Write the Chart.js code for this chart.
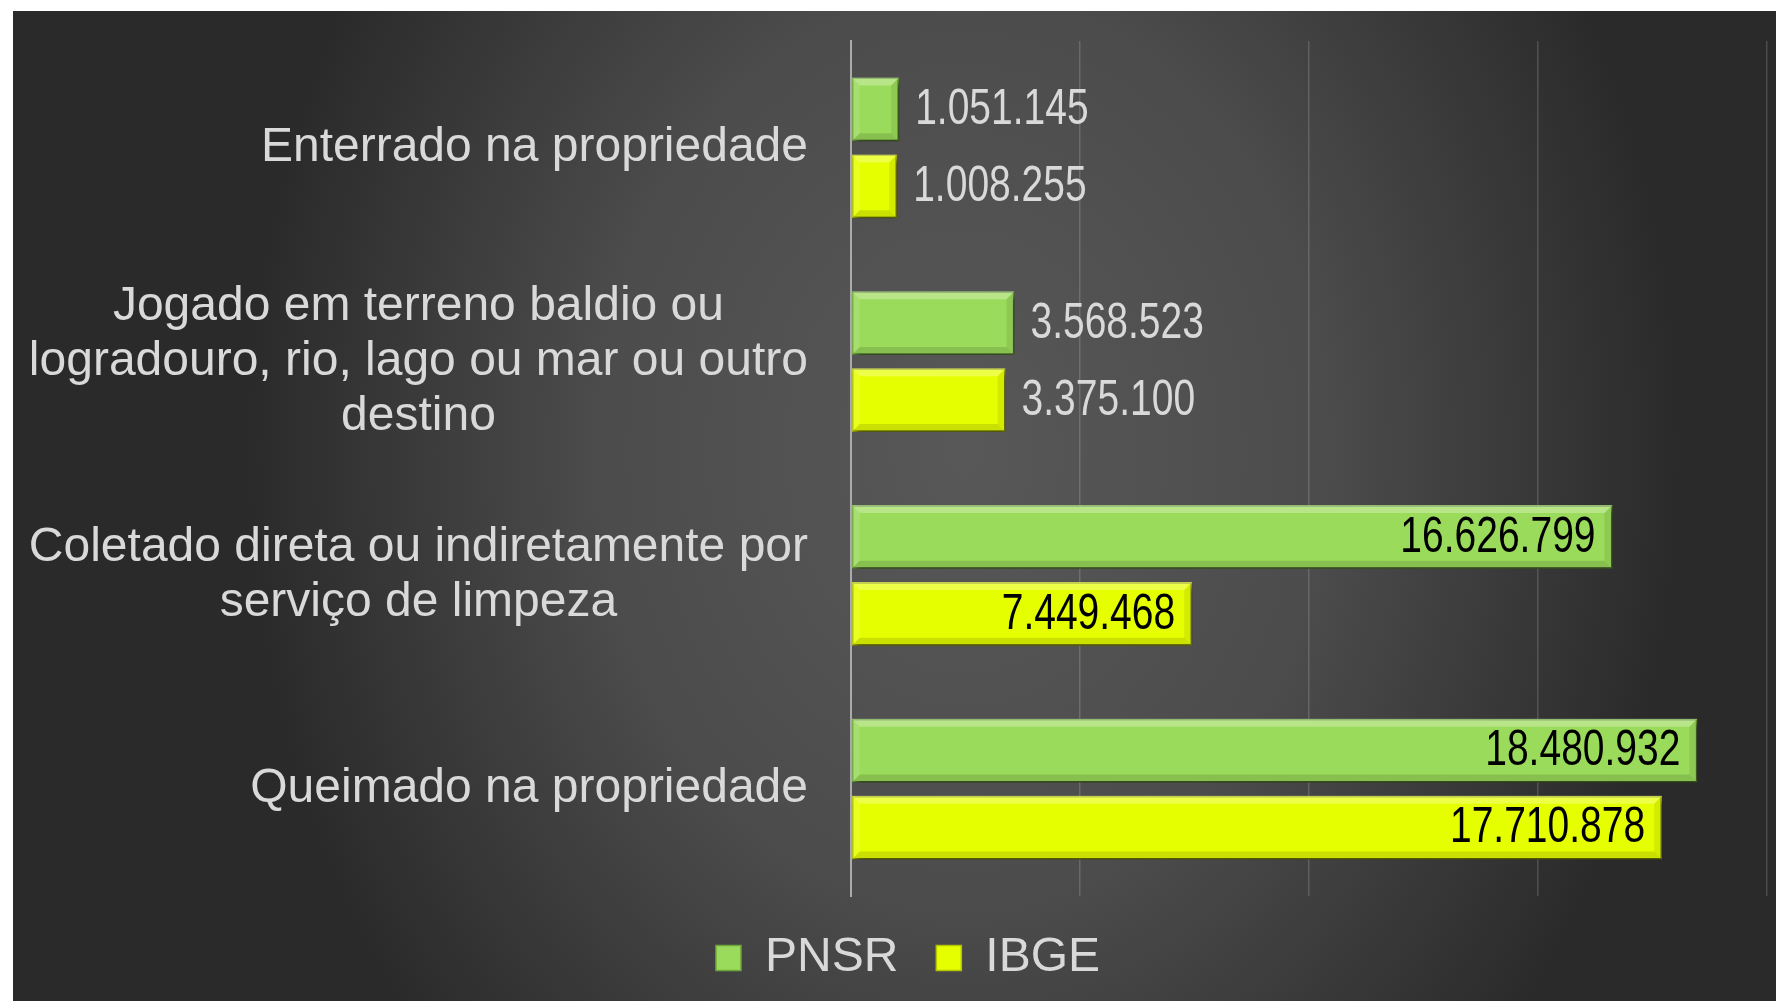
<!DOCTYPE html>
<html>
<head>
<meta charset="utf-8">
<script src="https://cdn.jsdelivr.net/npm/chart.js@4.4.1/dist/chart.umd.min.js"></script>
<style>
    html, body { margin: 0; padding: 0; background: #ffffff; }
    #wrap {
        position: absolute;
        left: 13px; top: 11px;
        width: 1763px; height: 990px;
        background: radial-gradient(ellipse 720px 900px at 950px 440px, #585858 0%, #4c4c4c 50%, #2a2a2a 100%);
    }
</style>
</head>
<body>
<div id="wrap"><canvas id="chart"></canvas></div>
<script>
// Data
const categories = [
    ['Enterrado na propriedade'],
    ['Jogado em terreno baldio ou', 'logradouro, rio, lago ou mar ou outro', 'destino'],
    ['Coletado direta ou indiretamente por', 'serviço de limpeza'],
    ['Queimado na propriedade']
];
const seriesNames = ['PNSR', 'IBGE'];
const pnsrValues = [1051145, 3568523, 16626799, 18480932];
const ibgeValues = [1008255, 3375100, 7449468, 17710878];
const axisMax = 20000000;
const axisStep = 5000000;

const textColor = '#D9D9D9';
const labelFont = '"Liberation Sans", Arial, sans-serif';

function formatNumber(v) {
    return String(v).replace(/\B(?=(\d{3})+(?!\d))/g, '.');
}

// Bevel look + shadow + value labels on the bars
const barDecor = {
    id: 'barDecor',
    beforeDatasetsDraw(chart) {
        const ctx = chart.ctx;
        ctx.save();
        ctx.shadowColor = 'rgba(0,0,0,0.55)';
        ctx.shadowBlur = 6;
        ctx.shadowOffsetX = 3;
        ctx.shadowOffsetY = 4;
    },
    afterDatasetsDraw(chart) {
        const ctx = chart.ctx;
        ctx.restore();

        chart.data.datasets.forEach((ds, di) => {
            chart.getDatasetMeta(di).data.forEach((bar, i) => {
                const p = bar.getProps(['x', 'y', 'base', 'height'], true);
                const x0 = p.base, x1 = p.x;
                const y0 = p.y - p.height / 2, y1 = p.y + p.height / 2;
                const b = 8;
                const faces = [
                    [[x0, y0], [x1, y0], [x1 - b, y0 + b], [x0 + b, y0 + b], 'rgba(255,255,255,0.28)'],
                    [[x0, y1], [x1, y1], [x1 - b, y1 - b], [x0 + b, y1 - b], 'rgba(0,0,0,0.12)'],
                    [[x1, y0], [x1, y1], [x1 - b, y1 - b], [x1 - b, y0 + b], 'rgba(0,0,0,0.08)'],
                    [[x0, y0], [x0, y1], [x0 + b, y1 - b], [x0 + b, y0 + b], 'rgba(255,255,255,0.12)']
                ];
                faces.forEach(f => {
                    ctx.beginPath();
                    ctx.moveTo(f[0][0], f[0][1]);
                    for (let k = 1; k < 4; k++) ctx.lineTo(f[k][0], f[k][1]);
                    ctx.closePath();
                    ctx.fillStyle = f[4];
                    ctx.fill();
                });

                // value label
                const text = formatNumber(ds.data[i]);
                const sx = 0.78;
                ctx.save();
                ctx.font = '50px ' + labelFont;
                const w = ctx.measureText(text).width * sx;
                const inside = (x1 - x0) > w + 40;
                ctx.textBaseline = 'middle';
                ctx.fillStyle = inside ? '#000000' : textColor;
                const tx = inside ? x1 - 17 - w : x1 + 16;
                ctx.translate(tx, p.y + 1);
                ctx.scale(sx, 1);
                ctx.textAlign = 'left';
                ctx.fillText(text, 0, 0);
                ctx.restore();
            });
        });
    },
    afterDraw(chart) {
        // category labels: block right aligned, lines centered inside block
        const ctx = chart.ctx;
        const yScale = chart.scales.y;
        const rightEdge = yScale.right - 43;
        const lineH = 55;
        ctx.save();
        ctx.font = '48px ' + labelFont;
        ctx.fillStyle = textColor;
        ctx.textAlign = 'center';
        ctx.textBaseline = 'middle';
        categories.forEach((lines, i) => {
            const cy = yScale.getPixelForTick(i);
            const blockW = Math.max(...lines.map(l => ctx.measureText(l).width));
            const cx = rightEdge - blockW / 2;
            lines.forEach((l, k) => {
                ctx.fillText(l, cx, cy + (k - (lines.length - 1) / 2) * lineH);
            });
        });
        ctx.restore();
    }
};

new Chart(document.getElementById('chart'), {
    type: 'bar',
    data: {
        labels: categories,
        datasets: [
            {
                label: seriesNames[0],
                data: pnsrValues,
                backgroundColor: '#9BDB5B',
                borderColor: '#6FA83A',
                borderWidth: 1.5,
                borderSkipped: false,
                categoryPercentage: 0.72,
                barPercentage: 0.83
            },
            {
                label: seriesNames[1],
                data: ibgeValues,
                backgroundColor: '#E6FF00',
                borderColor: '#B5C400',
                borderWidth: 1.5,
                borderSkipped: false,
                categoryPercentage: 0.72,
                barPercentage: 0.83
            }
        ]
    },
    options: {
        indexAxis: 'y',
        responsive: true,
        maintainAspectRatio: false,
        animation: false,
        layout: {
            padding: { top: 30, right: 9, bottom: 9, left: 36 }
        },
        plugins: {
            legend: {
                position: 'bottom',
                labels: {
                    color: textColor,
                    font: { family: labelFont, size: 48 },
                    boxWidth: 25,
                    boxHeight: 25,
                    padding: 38
                }
            },
            tooltip: { enabled: false }
        },
        scales: {
            x: {
                min: 0,
                max: axisMax,
                ticks: { display: false, stepSize: axisStep },
                grid: {
                    drawTicks: false,
                    lineWidth: 1.5,
                    color: ctx => ctx.tick && ctx.tick.value === 0 ? 'rgba(0,0,0,0)' : 'rgba(255,255,255,0.16)'
                },
                border: { display: false }
            },
            y: {
                ticks: { display: false },
                grid: { display: false, drawTicks: false },
                border: { display: true, color: '#ABABAB', width: 2 },
                afterFit(scale) {
                    scale.width = 802;
                }
            }
        }
    },
    plugins: [barDecor]
});
</script>
</body>
</html>
